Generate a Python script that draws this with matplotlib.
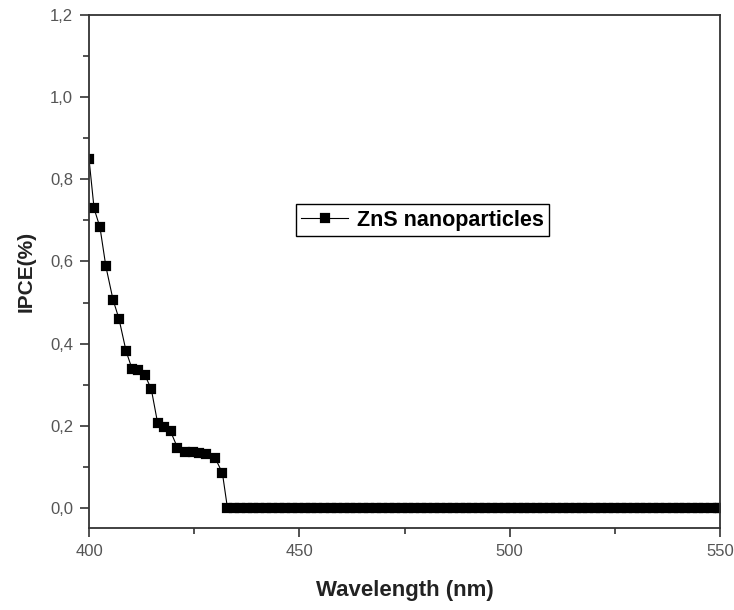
import matplotlib.pyplot as plt
from matplotlib.ticker import FuncFormatter, MultipleLocator

plt.rcParams['font.family'] = ['Liberation Sans', 'DejaVu Sans']

# measured part of the curve
wl_rise = [400.0, 401.2, 402.6, 404.0, 405.7, 407.1, 408.8, 410.2, 411.7, 413.3,
           414.8, 416.3, 417.9, 419.4, 421.0, 422.9, 424.6, 426.2, 427.9, 430.0,
           431.7]
ipce_rise = [0.849, 0.729, 0.683, 0.588, 0.507, 0.461, 0.382, 0.339, 0.335, 0.323,
             0.289, 0.207, 0.196, 0.186, 0.147, 0.137, 0.135, 0.133, 0.132, 0.121,
             0.085]

# flat tail at zero
wl_flat = [432.9, 434.4, 436.0, 437.5, 439.0, 440.5, 442.1, 443.6, 445.1, 446.7,
           448.2, 449.7, 451.3, 452.8, 454.3, 455.9, 457.4, 458.9, 460.5, 462.0,
           463.5, 465.1, 466.6, 468.1, 469.7, 471.2, 472.7, 474.3, 475.8, 477.3,
           478.9, 480.4, 481.9, 483.5, 485.0, 486.5, 488.1, 489.6, 491.1, 492.7,
           494.2, 495.7, 497.3, 498.8, 500.3, 501.9, 503.4, 504.9, 506.5, 508.0,
           509.5, 511.1, 512.6, 514.1, 515.7, 517.2, 518.7, 520.3, 521.8, 523.3,
           524.9, 526.4, 527.9, 529.5, 531.0, 532.5, 534.1, 535.6, 537.1, 538.7,
           540.2, 541.7, 543.3, 544.8, 546.3, 547.9, 549.4, 550.0]
ipce_flat = [0.0] * len(wl_flat)

wl = wl_rise + wl_flat
ipce = ipce_rise + ipce_flat

fig = plt.figure(figsize=(7.34, 6.10), dpi=100)
ax = fig.add_axes([0.1213, 0.1344, 0.8597, 0.8410])

ax.plot(wl, ipce, color='black', lw=0.8, marker='s', ms=5.8, mew=1.6,
        label='ZnS nanoparticles')

ax.set_xlim(400, 550)
ax.set_ylim(-0.049, 1.2)
ax.xaxis.set_major_locator(MultipleLocator(50))
ax.xaxis.set_minor_locator(MultipleLocator(25))
ax.yaxis.set_major_locator(MultipleLocator(0.2))
ax.yaxis.set_minor_locator(MultipleLocator(0.1))
ax.yaxis.set_major_formatter(FuncFormatter(lambda v, p: f'{v:.1f}'.replace('.', ',')))

ax.tick_params(which='both', direction='out', width=1.2, colors='#333333',
               labelsize=12, labelcolor='#555555')
ax.tick_params(which='major', length=6.5, pad=5)
ax.tick_params(which='minor', length=4)
for s in ax.spines.values():
    s.set_linewidth(1.3)
    s.set_color('#333333')

ax.set_xlabel('Wavelength (nm)', fontsize=16, fontweight='bold', labelpad=15,
              color='#222222')
ax.set_ylabel('IPCE(%)', fontsize=15, fontweight='bold', labelpad=10,
              color='#222222')

leg = ax.legend(loc='center', bbox_to_anchor=(0.5285, 0.600),
                prop={'weight': 'bold', 'size': 15.5}, fancybox=False,
                edgecolor='black', handlelength=2.2, borderpad=0.25,
                handletextpad=0.4, framealpha=1)
leg.get_frame().set_linewidth(1.0)

plt.savefig('out.png', dpi=100)
